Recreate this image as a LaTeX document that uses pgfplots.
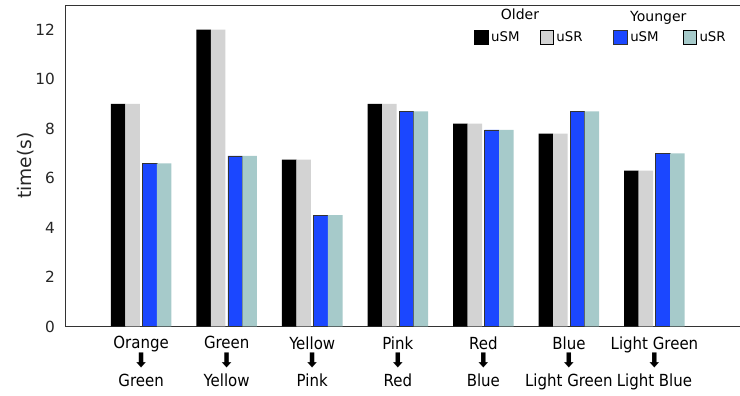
\documentclass[border=0pt]{standalone}
\usepackage{fontspec}
\setmainfont{DejaVu Sans}
\newfontfamily\condfont{DejaVu Sans Condensed}
\usepackage{pgfplots}
\pgfplotsset{compat=1.18}
\definecolor{cblue}{RGB}{27,71,255}
\definecolor{cgray}{RGB}{211,211,211}
\definecolor{cteal}{RGB}{166,202,202}
\newcommand{\dn}{{\fontsize{15}{14}\selectfont\bfseries ⬇}}
\begin{document}
\begin{tikzpicture}
\begin{axis}[
  scale only axis, width=506.25pt, height=241.1pt,
  xmin=-0.89, xmax=7.0, ymin=0, ymax=13,
  ytick={0,2,...,12},
  xtick={0,...,6},
  xticklabels={{Orange\\\dn\\Green},{Green\\\dn\\Yellow},{Yellow\\\dn\\Pink},{Pink\\\dn\\Red},{Red\\\dn\\Blue},{Blue\\\dn\\Light Green},{Light Green\\\dn\\Light Blue}},
  xticklabel style={align=center, font=\condfont\fontsize{12.5}{14}\selectfont, yshift=-4pt},
  yticklabel style={font=\fontsize{11.5}{12}\selectfont, xshift=-4pt, text=black!85},
  /pgf/number format/assume math mode=true,
  major tick length=0pt,
  ylabel={time(s)}, ylabel style={font=\fontsize{14}{14}\selectfont, yshift=-6pt, text=black!85},
  axis line style={draw=black!80},
  ybar, bar width=10.9pt,
  legend columns=4,
  legend style={draw=none, fill=none, at={(rel axis cs:0.6,0.935)}, anchor=north west, font=\fontsize{10}{11}\selectfont,
    /tikz/column 2/.style={column sep=13pt},
    /tikz/column 4/.style={column sep=21pt},
    /tikz/column 6/.style={column sep=16pt}},
  legend image code/.code={\draw[#1] (0cm,-0.18cm) rectangle (0.36cm,0.18cm);},
  legend cell align=left,
]
\addplot[fill=black, draw=none, bar shift=-17.25pt] coordinates {(0,9) (1,12) (2,6.75) (3,9) (4,8.2) (5,7.8) (6,6.3)};
\addlegendentry{uSM}
\addplot[fill=cgray, draw=none, bar shift=-6.4pt] coordinates {(0,9) (1,12) (2,6.75) (3,9) (4,8.2) (5,7.8) (6,6.3)};
\addlegendentry{uSR}
\addplot[fill=cblue, draw=black!80, line width=0.5pt, bar shift=6.4pt] coordinates {(0,6.6) (1,6.9) (2,4.5) (3,8.7) (4,7.95) (5,8.7) (6,7.0)};
\addlegendentry{uSM}
\addplot[fill=cteal, draw=none, bar shift=17.25pt] coordinates {(0,6.6) (1,6.9) (2,4.5) (3,8.7) (4,7.95) (5,8.7) (6,7.0)};
\addlegendentry{uSR}
\node[font=\fontsize{10.5}{11}\selectfont] at (rel axis cs:0.674,0.972) {Older};
\node[font=\fontsize{10.5}{11}\selectfont] at (rel axis cs:0.879,0.960) {Younger};
\end{axis}
\pgfresetboundingbox
\useasboundingbox ([xshift=-48.75pt,yshift=-52.1pt]current axis.south west) rectangle ([yshift=3.75pt]current axis.north east);
\end{tikzpicture}
\end{document}
